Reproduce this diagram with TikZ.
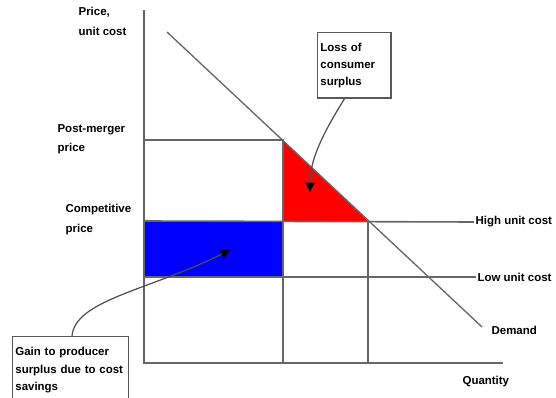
\documentclass[tikz,border=0pt]{standalone}
\usepackage{fontspec}
\setmainfont{Liberation Sans}
\usetikzlibrary{arrows.meta}

\begin{document}
\begin{tikzpicture}[x=0.75pt,y=-0.75pt,
lbl/.style={font=\bfseries\fontsize{8.6}{14.5}\selectfont,align=left,inner sep=1pt},
ln/.style={draw=black!60,line width=1.2pt},
callout/.style={lbl,font=\bfseries\fontsize{8.6}{13}\selectfont,draw=black!65,line width=1.1pt,inner sep=2pt,anchor=north west},
pointer/.style={draw=black!70,line width=0.9pt,-{Triangle[length=7pt,width=7pt,color=black,fill=black]}}]
\useasboundingbox (0,0) rectangle (556,398);
% key points
\coordinate (origin) at (144,363);
\coordinate (ytop) at (144,10);
\coordinate (xend) at (503,363);
\coordinate (pm) at (144,140);
\coordinate (pc) at (144,221);
\coordinate (pl) at (144,277);
\coordinate (qm) at (283,140);
\coordinate (qc) at (368,221);
\coordinate (mid) at (283,221);
\coordinate (midlow) at (283,277);
\coordinate (qmaxis) at (283,363);
\coordinate (qcaxis) at (368,363);
\coordinate (dstart) at (167,32);
\coordinate (dend) at (482,327);
% areas
\fill[red] (qm) -- (qc) -- (mid) -- cycle;
\fill[blue] (pc) rectangle (midlow);
% labels
\node[lbl,anchor=north west] (price) at (77,6) {Price,\\unit cost};
\node[lbl,anchor=north west] (post) at (56,123) {Post-merger\\price};
\node[lbl,anchor=north west] (comp) at (64,203) {Competitive\\price};
\node[lbl,anchor=west] (high) at (474,222) {High unit cost};
\node[lbl,anchor=west] (low) at (476,277) {Low unit cost};
\node[lbl,anchor=west] (demand) at (490,330) {Demand};
\node[lbl,anchor=north west] (qty) at (461,375) {Quantity};
% lines
\draw[ln] (ytop) -- (origin) -- (xend);
\draw[ln] (pm) -- (qm) -- (qmaxis);
\draw[ln] (pc) -- (high.west);
\draw[ln] (pl) -- (low.west);
\draw[ln] (qc) -- (qcaxis);
\draw[ln,line width=1pt] (dstart) -- (dend);
% callouts
\node[callout,text width=51pt,minimum height=49pt] (loss) at (317,32) {Loss of\\consumer\\surplus\vphantom{g}};
\node[callout,text width=83pt,minimum height=50pt] (gain) at (12,336) {Gain to producer\\surplus due to cost\\savings};
\coordinate (losstip) at (310,192);
\coordinate (gaintip) at (230,250);
\draw[pointer] (loss.south) ++(-10,0) .. controls (322,135) and (310,160) .. (losstip);
\draw[pointer] ([xshift=45pt]gain.north west) .. controls (75,300) and (150,290) .. (gaintip);
\end{tikzpicture}
\end{document}
